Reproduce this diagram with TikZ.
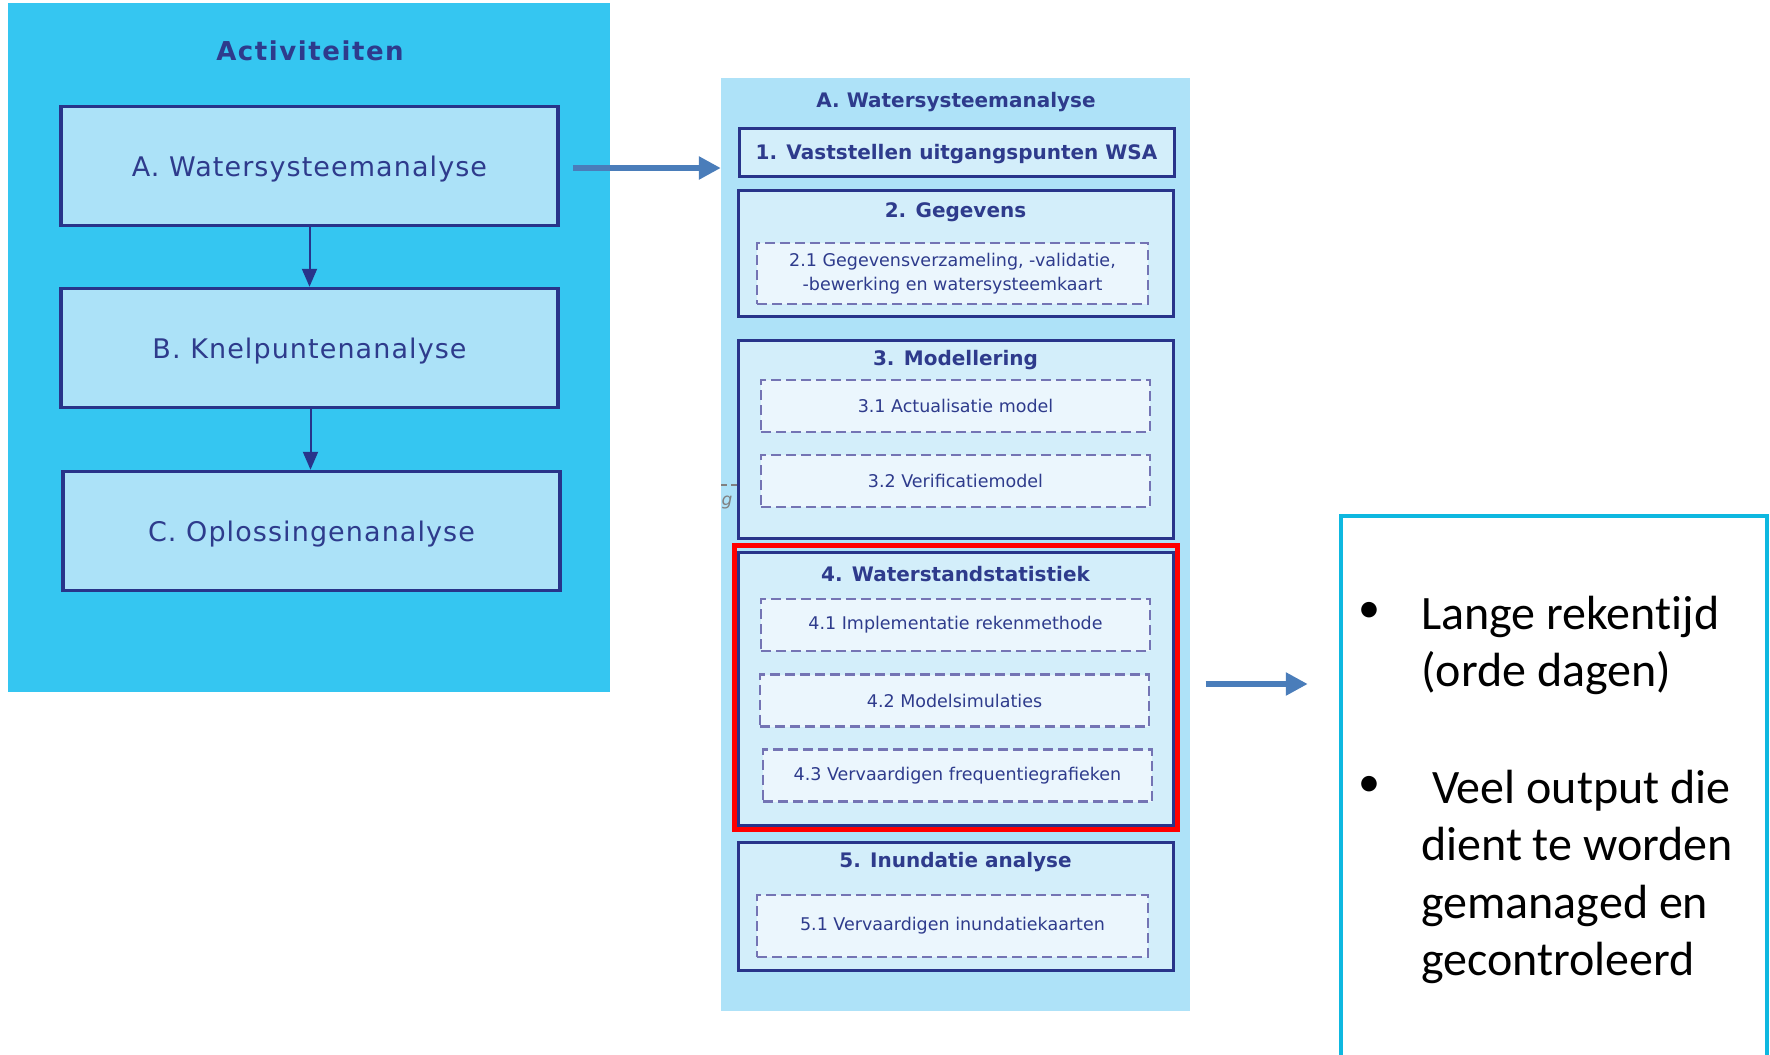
\documentclass[tikz,border=0pt]{standalone}
\usepackage{fontspec}
\setmainfont{DejaVu Sans}
\newfontfamily\calfont[Ligatures=NoCommon]{Carlito}
\newfontfamily\widefont[LetterSpace=4]{DejaVu Sans}
\newfontfamily\widebold[LetterSpace=6]{DejaVu Sans Bold}
\usetikzlibrary{arrows.meta}
\definecolor{lpanel}{HTML}{35C6F1}
\definecolor{boxfill}{HTML}{ACE2F8}
\definecolor{midpanel}{HTML}{AEE2F8}
\definecolor{innerfill}{HTML}{D3EEFA}
\definecolor{dashfill}{HTML}{EBF6FD}
\definecolor{dashdraw}{HTML}{7474B4}
\definecolor{navy}{HTML}{28348A}
\definecolor{navytext}{HTML}{2E3B8C}
\definecolor{arrowblue}{HTML}{4A7DBA}
\definecolor{cyanbox}{HTML}{0EB8E0}
\definecolor{redbox}{HTML}{FF0000}
\begin{document}
\begin{tikzpicture}[x=1pt,y=-1pt,
  bigbox/.style={draw=navy, fill=boxfill, line width=3.5pt, minimum width=497pt, minimum height=119pt, text=navytext, font=\widefont\fontsize{27}{30}\selectfont, inner sep=0pt, text depth=0.05em},
  innerbox/.style={draw=navy, fill=innerfill, line width=3pt, minimum width=435pt, inner sep=0pt},
  dashbox/.style={draw=dashdraw, fill=dashfill, line width=2.8pt, dash pattern=on 10pt off 5pt, minimum width=389pt, minimum height=52pt, text=navytext, font=\fontsize{17.5}{24}\selectfont, inner sep=0pt, align=center},
  headtext/.style={text=navytext, font=\bfseries\fontsize{20}{22}\selectfont, inner sep=0pt, yshift=-2pt},
  navyarrow/.style={draw=navy, line width=2pt, -{Triangle[length=18pt,width=15pt]}},
  bluearrow/.style={draw=arrowblue, line width=6pt, -{Triangle[length=22pt,width=22pt]}},
  rtext/.style={font=\calfont\fontsize{48}{57}\selectfont, inner sep=0pt, anchor=base west}
]
\useasboundingbox (0,0) rectangle (1770,1055);
\clip (0,0) rectangle (1770,1055);
\fill[white] (0,0) rectangle (1770,1055);

% left panel
\fill[lpanel] (8,3) rectangle (610,692);
\node[text=navytext, font=\widebold\fontsize{26}{30}\selectfont, inner sep=0pt] (act) at (310,51) {Activiteiten};
\node[bigbox] (A) at (309.5,166) {A.\ Watersysteemanalyse};
\node[bigbox] (B) at (309.5,348) {B.\ Knelpuntenanalyse};
\node[bigbox] (C) at (311.5,531) {C.\ Oplossingenanalyse};
\draw[navyarrow] (A.south) -- (B.north);
\draw[navyarrow] ([xshift=1pt]B.south) -- ([xshift=1pt]B.south |- C.north);

% middle panel
\node[fill=midpanel, minimum width=469pt, minimum height=933pt, inner sep=0pt] (mid) at (955.5,544.5) {};
\node[headtext] (midtitle) at (956,100) {A. Watersysteemanalyse};
\node[innerbox, minimum height=48pt, text=navytext, font=\bfseries\fontsize{20}{22}\selectfont, text depth=0pt] (b1) at (956.5,152) {1. Vaststellen uitgangspunten WSA};

\node[innerbox, minimum height=126pt] (b2) at (955.5,253) {};
\node[headtext] (t2) at (955.5,210) {2. Gegevens};
\node[dashbox, minimum width=391pt, minimum height=61pt] (d21) at (952.5,273.5) {2.1 Gegevensverzameling, -validatie,\\-bewerking en watersysteemkaart};

\node[innerbox, minimum height=198pt] (b3) at (955.5,439) {};
\node[headtext] (t3) at (955.5,358) {3. Modellering};
\node[dashbox] (d31) at (955.5,406) {3.1 Actualisatie model};
\node[dashbox] (d32) at (955.5,481) {3.2 Verificatiemodel};

\node[innerbox, minimum height=273pt] (b4) at (955.5,688.5) {};
\node[headtext] (t4) at (955.5,572) {4. Waterstandstatistiek};
\node[dashbox] (d41) at (955.5,625) {4.1 Implementatie rekenmethode};
\node[dashbox] (d42) at (954.5,700.5) {4.2 Modelsimulaties};
\node[dashbox] (d43) at (957.5,775.5) {4.3 Vervaardigen frequentiegrafieken};
\node[draw=redbox, line width=5pt, minimum width=443pt, minimum height=284pt, inner sep=0pt] (red) at (955.5,687) {};

\node[innerbox, minimum height=128pt] (b5) at (955.5,906) {};
\node[headtext] (t5) at (955.5,860) {5. Inundatie analyse};
\node[dashbox, minimum width=391pt, minimum height=62pt] (d51) at (952.5,926) {5.1 Vervaardigen inundatiekaarten};

% fragment at left edge of middle panel
\coordinate (fragA) at (721,485);
\coordinate (fragB) at (738,485);
\draw[gray, line width=1.5pt, dash pattern=on 6pt off 4pt] (fragA) -- (fragB);
\node[text=gray, font=\itshape\fontsize{17}{20}\selectfont, inner sep=0pt] (gfrag) at (727,503) {g};

% blue arrows
\coordinate (a1s) at ([xshift=13pt,yshift=-2pt]A.east);
\draw[bluearrow] (a1s) -- (a1s -| mid.west);

% right box
\node[draw=cyanbox, line width=4.5pt, minimum width=426pt, minimum height=560pt, inner sep=0pt] (rbox) at (1554,796) {};
\coordinate (a2s) at ([xshift=26pt,yshift=3pt]red.east);
\coordinate (a2e) at ([xshift=-31pt]rbox.west);
\draw[bluearrow] (a2s) -- (a2s -| a2e);

\node[font=\calfont\fontsize{44}{57}\selectfont, inner sep=0pt] (bul1) at (1369,612) {•};
\node[font=\calfont\fontsize{44}{57}\selectfont, inner sep=0pt] (bul2) at (1369,786) {•};
\node[rtext] (r1) at (1421,629) {Lange rekentijd};
\node[rtext] (r2) at (1421,686) {(orde dagen)};
\node[rtext] (r3) at (1421,803) {\ Veel output die};
\node[rtext] (r4) at (1421,860) {dient te worden};
\node[rtext] (r5) at (1421,918) {gemanaged en};
\node[rtext] (r6) at (1421,975) {gecontroleerd};
\end{tikzpicture}
\end{document}
